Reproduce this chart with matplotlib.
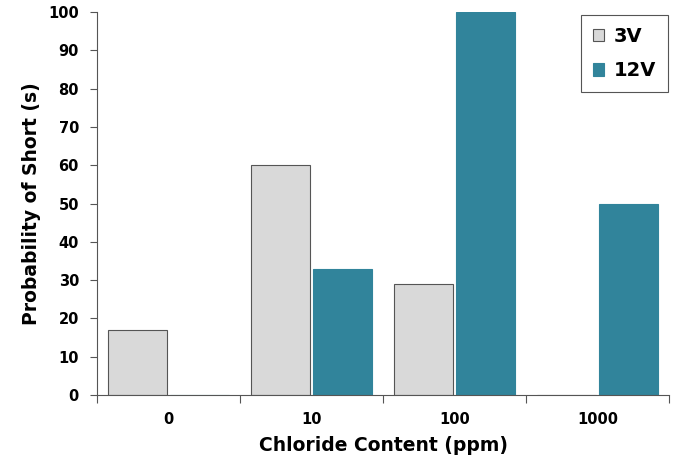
import numpy as np
import matplotlib
matplotlib.use('Agg')
import matplotlib.pyplot as plt

# data
categorias = ['0', '10', '100', '1000']
v3 = [17, 60, 29, 0]
v12 = [0, 33, 100, 50]

plt.rcParams['font.family'] = ['DejaVu Sans']
plt.rcParams['font.weight'] = 'bold'

fig = plt.figure(figsize=(6.76, 4.61), dpi=100)
ax = fig.add_axes([0.1435, 0.143, 0.8465, 0.831])

x = np.arange(len(categorias))
w = 0.41
ax.bar(x - 0.217, v3, w, color='#d9d9d9', edgecolor='#555555', linewidth=0.8, label='3V')
ax.bar(x + 0.217, v12, w, color='#31849b', edgecolor='#31849b', linewidth=0.8, label='12V')

ax.set_xlim(-0.5, 3.5)
ax.set_ylim(0, 100)
ax.set_yticks(range(0, 101, 10))
ax.set_xticks(np.arange(-0.5, 4, 1))
ax.set_xticklabels([])
ax.set_xticks(x, minor=True)
ax.set_xticklabels(categorias, minor=True)
ax.tick_params(axis='x', which='minor', length=0, pad=12, labelsize=10.5)
ax.tick_params(axis='x', which='major', length=6, width=0.8, color='#555555')
ax.tick_params(axis='y', length=5, width=0.8, color='#555555', labelsize=10.5, pad=8)

for s in ['top', 'right']:
    ax.spines[s].set_visible(False)
for s in ['left', 'bottom']:
    ax.spines[s].set_color('#555555')
    ax.spines[s].set_linewidth(0.8)

ax.set_xlabel('Chloride Content (ppm)', fontsize=13.5, fontweight='bold', labelpad=7)
ax.set_ylabel('Probability of Short (s)', fontsize=13.5, fontweight='bold', labelpad=5)

leg = ax.legend(loc='upper right', bbox_to_anchor=(0.998, 0.992), borderaxespad=0, fontsize=14,
                handlelength=0.6, handleheight=0.6, handletextpad=0.5, borderpad=0.6,
                labelspacing=0.8, fancybox=False, edgecolor='#555555', framealpha=1)
leg.get_frame().set_linewidth(0.8)

fig.savefig('out.png', dpi=100)
